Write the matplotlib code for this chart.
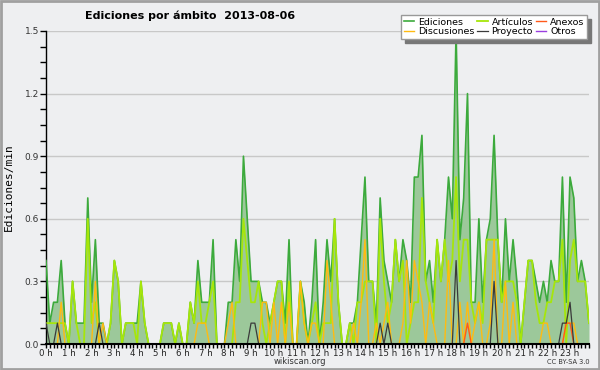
#!/usr/bin/env python3
"""
Ediciones por ámbito - wikiscan 2013-08-06
"""

import numpy as np
import matplotlib
matplotlib.use("Agg")
import matplotlib.pyplot as plt
from matplotlib.patches import Rectangle


# 10-minute slots over the day (minutes since 00:00)
minutes = np.arange(0, 1440, 10)
hour_labels = [f"{h} h" for h in range(24)]

ediciones = [
    0.4, 0.1, 0.2, 0.2, 0.4, 0.1, 0.0, 0.3, 0.1, 0.1, 0.1, 0.7,
    0.2, 0.5, 0.1, 0.1, 0.0, 0.1, 0.4, 0.3, 0.0, 0.1, 0.1, 0.1,
    0.1, 0.3, 0.1, 0.0, 0.0, 0.0, 0.0, 0.1, 0.1, 0.1, 0.0, 0.1,
    0.0, 0.0, 0.2, 0.1, 0.4, 0.2, 0.2, 0.2, 0.5, 0.0, 0.0, 0.0,
    0.2, 0.2, 0.5, 0.3, 0.9, 0.6, 0.3, 0.3, 0.3, 0.2, 0.2, 0.1,
    0.2, 0.3, 0.3, 0.1, 0.5, 0.0, 0.0, 0.3, 0.2, 0.0, 0.2, 0.5,
    0.0, 0.2, 0.5, 0.3, 0.6, 0.2, 0.0, 0.0, 0.1, 0.1, 0.2, 0.5,
    0.8, 0.3, 0.3, 0.1, 0.7, 0.4, 0.3, 0.2, 0.5, 0.3, 0.5, 0.4,
    0.2, 0.8, 0.8, 1.0, 0.3, 0.4, 0.2, 0.5, 0.3, 0.5, 0.8, 0.6,
    1.5, 0.5, 0.7, 1.2, 0.2, 0.2, 0.6, 0.2, 0.5, 0.6, 1.0, 0.5,
    0.2, 0.6, 0.3, 0.5, 0.3, 0.0, 0.2, 0.4, 0.4, 0.3, 0.2, 0.3,
    0.2, 0.4, 0.3, 0.3, 0.8, 0.2, 0.8, 0.7, 0.3, 0.4, 0.3, 0.1,
]

articulos = [
    0.1, 0.1, 0.1, 0.1, 0.1, 0.1, 0.0, 0.3, 0.1, 0.0, 0.0, 0.6,
    0.1, 0.2, 0.0, 0.0, 0.0, 0.1, 0.4, 0.3, 0.0, 0.1, 0.1, 0.1,
    0.0, 0.3, 0.1, 0.0, 0.0, 0.0, 0.0, 0.1, 0.1, 0.1, 0.0, 0.1,
    0.0, 0.0, 0.2, 0.1, 0.3, 0.1, 0.1, 0.2, 0.3, 0.0, 0.0, 0.0,
    0.0, 0.0, 0.2, 0.2, 0.6, 0.4, 0.2, 0.2, 0.3, 0.1, 0.0, 0.1,
    0.2, 0.3, 0.3, 0.0, 0.3, 0.0, 0.0, 0.3, 0.1, 0.0, 0.1, 0.2,
    0.0, 0.1, 0.1, 0.1, 0.6, 0.2, 0.0, 0.0, 0.1, 0.0, 0.2, 0.2,
    0.3, 0.3, 0.3, 0.0, 0.6, 0.3, 0.1, 0.2, 0.5, 0.3, 0.4, 0.0,
    0.1, 0.2, 0.2, 0.7, 0.3, 0.2, 0.1, 0.5, 0.3, 0.5, 0.3, 0.4,
    0.8, 0.3, 0.5, 0.5, 0.2, 0.1, 0.2, 0.1, 0.5, 0.5, 0.5, 0.5,
    0.2, 0.3, 0.3, 0.3, 0.2, 0.0, 0.2, 0.4, 0.4, 0.2, 0.1, 0.1,
    0.2, 0.2, 0.3, 0.3, 0.5, 0.0, 0.4, 0.5, 0.3, 0.3, 0.3, 0.1,
]

discusiones = [
    0.0, 0.0, 0.0, 0.0, 0.2, 0.0, 0.0, 0.0, 0.0, 0.0, 0.0, 0.0,
    0.0, 0.3, 0.0, 0.1, 0.0, 0.0, 0.0, 0.0, 0.0, 0.0, 0.0, 0.0,
    0.0, 0.0, 0.0, 0.0, 0.0, 0.0, 0.0, 0.0, 0.0, 0.0, 0.0, 0.0,
    0.0, 0.0, 0.0, 0.0, 0.1, 0.1, 0.1, 0.0, 0.0, 0.0, 0.0, 0.0,
    0.1, 0.2, 0.0, 0.0, 0.0, 0.0, 0.0, 0.0, 0.0, 0.2, 0.2, 0.0,
    0.2, 0.0, 0.2, 0.0, 0.2, 0.0, 0.0, 0.3, 0.1, 0.0, 0.1, 0.1,
    0.0, 0.0, 0.4, 0.2, 0.0, 0.0, 0.0, 0.0, 0.0, 0.1, 0.0, 0.2,
    0.5, 0.0, 0.0, 0.1, 0.0, 0.1, 0.2, 0.0, 0.0, 0.0, 0.1, 0.4,
    0.1, 0.4, 0.3, 0.2, 0.0, 0.2, 0.1, 0.0, 0.0, 0.0, 0.4, 0.0,
    0.0, 0.2, 0.0, 0.2, 0.0, 0.1, 0.2, 0.0, 0.0, 0.1, 0.5, 0.0,
    0.0, 0.3, 0.0, 0.2, 0.0, 0.0, 0.0, 0.0, 0.0, 0.0, 0.0, 0.1,
    0.1, 0.0, 0.0, 0.0, 0.0, 0.1, 0.1, 0.1, 0.0, 0.0, 0.0, 0.0,
]

proyecto = [
    0.1, 0.0, 0.0, 0.1, 0.0, 0.0, 0.0, 0.0, 0.0, 0.0, 0.0, 0.0,
    0.0, 0.0, 0.1, 0.0, 0.0, 0.0, 0.0, 0.0, 0.0, 0.0, 0.0, 0.0,
    0.0, 0.0, 0.0, 0.0, 0.0, 0.0, 0.0, 0.0, 0.0, 0.0, 0.0, 0.0,
    0.0, 0.0, 0.0, 0.0, 0.0, 0.0, 0.0, 0.0, 0.0, 0.0, 0.0, 0.0,
    0.0, 0.0, 0.0, 0.0, 0.0, 0.0, 0.1, 0.1, 0.0, 0.0, 0.0, 0.0,
    0.0, 0.0, 0.0, 0.0, 0.0, 0.0, 0.0, 0.0, 0.0, 0.0, 0.0, 0.0,
    0.0, 0.0, 0.0, 0.0, 0.0, 0.0, 0.0, 0.0, 0.0, 0.0, 0.0, 0.0,
    0.0, 0.0, 0.0, 0.0, 0.1, 0.0, 0.1, 0.0, 0.0, 0.0, 0.0, 0.0,
    0.0, 0.0, 0.0, 0.0, 0.0, 0.0, 0.0, 0.0, 0.0, 0.0, 0.0, 0.0,
    0.4, 0.0, 0.0, 0.0, 0.0, 0.0, 0.0, 0.0, 0.0, 0.0, 0.3, 0.0,
    0.0, 0.0, 0.0, 0.0, 0.0, 0.0, 0.0, 0.0, 0.0, 0.0, 0.0, 0.0,
    0.0, 0.0, 0.0, 0.0, 0.1, 0.1, 0.2, 0.0, 0.0, 0.0, 0.0, 0.0,
]

anexos = [0.0] * 144
anexos[111] = 0.1
anexos[137] = 0.1
anexos[138] = 0.1

otros = [0.0] * 144

series = [
    ("Ediciones", ediciones, "#3caa3c", 1.2),
    ("Artículos", articulos, "#a6e60a", 1.3),
    ("Discusiones", discusiones, "#ffbb11", 1.0),
    ("Proyecto", proyecto, "#3a3a3a", 0.9),
    ("Anexos", anexos, "#ff5a1a", 1.0),
    ("Otros", otros, "#9a3ee0", 1.0),
]


def main():
    bg = "#eeeff1"
    fig = plt.figure(figsize=(6.0, 3.7), dpi=100, facecolor=bg)
    ax = fig.add_axes([46 / 600, 26 / 370, 543 / 600, 313 / 370])
    ax.set_facecolor(bg)

    t = minutes / 60.0

    # area under the total
    ax.fill_between(t, ediciones, 0, color="#9cc89a", lw=0, zorder=2)

    handles = {}
    for name, vals, col, lw in series:
        (ln,) = ax.plot(t, vals, color=col, lw=lw, zorder=3)
        handles[name] = ln
    # dark lines drawn over the rest
    handles["Proyecto"].set_zorder(5)
    handles["Anexos"].set_zorder(4)

    ax.set_xlim(t[0], t[-1])
    ax.set_ylim(0, 1.5)

    ax.set_yticks(np.arange(0, 1.51, 0.3))
    ax.set_yticklabels([f"{v:.1f}" for v in np.arange(0, 1.51, 0.3)])
    ax.set_yticks(np.arange(0, 1.51, 0.075), minor=True)
    ax.set_xticks(np.arange(24))
    ax.set_xticklabels(hour_labels)
    ax.set_xticks(t, minor=True)

    ax.grid(axis="y", which="major", color="#c8c8c8", lw=1, zorder=1)
    ax.tick_params(axis="y", which="both", direction="out", length=4,
                   width=1, labelsize=6.5, labelcolor="#333333", pad=1)
    ax.tick_params(axis="x", which="both", direction="out", length=3,
                   width=1, labelsize=6.2, labelcolor="#222222", pad=0.5)

    for s in ("top", "right"):
        ax.spines[s].set_visible(False)
    ax.spines["bottom"].set_linewidth(1.5)
    ax.spines["left"].set_linewidth(1)
    ax.spines["bottom"].set_zorder(6)

    ax.set_ylabel("Ediciones/min", family="DejaVu Sans Mono", fontsize=8,
                  labelpad=8)

    fig.text(85 / 600, 1 - 16 / 370, "Ediciones por ámbito  2013-08-06",
             fontsize=8, fontweight="bold", ha="left", va="center")
    fig.text(300 / 600, 1 - 362 / 370, "wikiscan.org", fontsize=6,
             ha="center", va="center", color="#333333")
    fig.text(590 / 600, 1 - 362 / 370, "CC BY-SA 3.0", fontsize=4.8,
             ha="right", va="center", color="#333333")

    order = ["Ediciones", "Discusiones", "Artículos", "Proyecto",
             "Anexos", "Otros"]
    leg = ax.legend([handles[n] for n in order], order, ncol=3,
                    loc="upper right", bbox_to_anchor=(592 / 600, 1 - 10 / 370),
                    bbox_transform=fig.transFigure, fontsize=6.8,
                    frameon=True, fancybox=False,
                    shadow={"color": "#777777", "alpha": 1, "ox": 3, "oy": -3},
                    handlelength=1.1, handletextpad=0.4, columnspacing=0.3,
                    labelspacing=0.05, borderpad=0.3)
    leg.get_frame().set_edgecolor("#999999")
    leg.get_frame().set_facecolor("white")
    leg.set_zorder(10)

    # outer frame of the image
    fig.patches.append(Rectangle((0.0015, 0.0025), 0.997, 0.995,
                                 transform=fig.transFigure, fill=False,
                                 edgecolor="#a0a0a0", lw=2))

    fig.savefig("out.png", dpi=100, facecolor=bg)


if __name__ == "__main__":
    main()
